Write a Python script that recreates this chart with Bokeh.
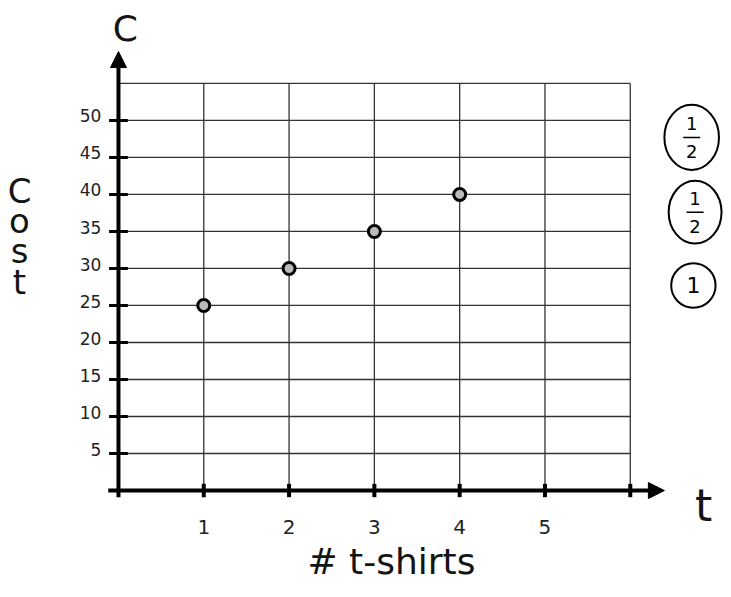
from bokeh.plotting import figure
from bokeh.models import Range1d, Arrow, NormalHead
from bokeh.core.properties import value
from bokeh.embed import file_html
from bokeh.resources import INLINE

# ---- data ----
tshirts = [1, 2, 3, 4]
cost = [25, 30, 35, 40]
x_ticks = [1, 2, 3, 4, 5]
x_tick_labels = ["1", "2", "3", "4", "5"]
y_ticks = [5, 10, 15, 20, 25, 30, 35, 40, 45, 50]
y_tick_labels = ["5", "10", "15", "20", "25", "30", "35", "40", "45", "50"]
x_grid = [1, 2, 3, 4, 5, 6]
y_grid = [5, 10, 15, 20, 25, 30, 35, 40, 45, 50, 55]
x_max_grid = 6
y_max_grid = 55
x_label = "# t-shirts"
y_label_letters = ["C", "o", "s", "t"]
y_var = "C"
x_var = "t"
marks_num = ["1", "1", ""]
marks_den = ["2", "2", ""]
marks_whole = ["", "", "1"]

FONT = "DejaVu Sans"
INK = "#141414"

p = figure(width=723, height=589, output_backend="svg", toolbar_location=None,
           x_range=Range1d(-1.383, 7.093), y_range=Range1d(-13.37, 66.2),
           min_border=0, outline_line_color=None)
p.axis.visible = False
p.grid.visible = False

# grid lines
p.segment(x0=x_grid, y0=[0] * len(x_grid), x1=x_grid, y1=[y_max_grid] * len(x_grid),
          line_color="#333333", line_width=1.3)
p.segment(x0=[0] * len(y_grid), y0=y_grid, x1=[x_max_grid] * len(y_grid), y1=y_grid,
          line_color="#333333", line_width=1.3)

# axes with arrows
p.add_layout(Arrow(end=NormalHead(size=16, fill_color="black", line_color="black"),
                   x_start=0, y_start=-0.9, x_end=0, y_end=59.3,
                   line_width=4, line_color="black"))
p.add_layout(Arrow(end=NormalHead(size=16, fill_color="black", line_color="black"),
                   x_start=-0.12, y_start=0, x_end=6.4, y_end=0,
                   line_width=4, line_color="black"))

# tick marks
p.segment(x0=[-0.11] * len(y_ticks), y0=y_ticks, x1=[0.11] * len(y_ticks), y1=y_ticks,
          line_color="black", line_width=3)
p.segment(x0=x_grid, y0=[-0.9] * len(x_grid), x1=x_grid, y1=[0.9] * len(x_grid),
          line_color="black", line_width=4)

# tick labels
p.text(x=[-0.2] * len(y_ticks), y=[v + 0.6 for v in y_ticks], text=y_tick_labels,
       text_font=value(FONT), text_font_size="17px", text_align="right",
       text_baseline="middle", text_color="#222222")
p.text(x=x_ticks, y=[-4.9] * len(x_ticks), text=x_tick_labels,
       text_font=value(FONT), text_font_size="20px", text_align="center",
       text_baseline="middle", text_color="#222222")

# data points
p.scatter(x=tshirts, y=cost, size=12, line_width=3, line_color="black",
          fill_color="#bbbbbb")

# axis names
p.text(x=[3.2], y=[-9.6], text=[x_label], text_font=value(FONT),
       text_font_size="36px", text_align="center", text_baseline="middle",
       text_color=INK)
p.text(x=[0.08], y=[62.4], text=[y_var], text_font=value(FONT),
       text_font_size="36px", text_align="center", text_baseline="middle",
       text_color=INK)
p.text(x=[6.86], y=[-2.0], text=[x_var], text_font=value(FONT),
       text_font_size="44px", text_align="center", text_baseline="middle",
       text_color=INK)
p.text(x=[-1.16] * 4, y=[40.5, 36.4, 32.4, 28.2], text=y_label_letters,
       text_font=value(FONT), text_font_size="34px", text_align="center",
       text_baseline="middle", text_color=INK)

# circled grading marks
mx = [6.72, 6.76, 6.74]
my = [47.7, 37.6, 27.7]
p.ellipse(x=mx, y=my, width=[0.64, 0.62, 0.52], height=[8.8, 8.5, 6.0],
          fill_color=None, line_color="black", line_width=2)
p.text(x=mx, y=[v + 1.9 for v in my], text=marks_num, text_font=value(FONT),
       text_font_size="18px", text_align="center", text_baseline="middle")
p.text(x=mx, y=[v - 1.9 for v in my], text=marks_den, text_font=value(FONT),
       text_font_size="18px", text_align="center", text_baseline="middle")
p.segment(x0=[v - 0.1 for v in mx[:2]], y0=my[:2], x1=[v + 0.1 for v in mx[:2]], y1=my[:2],
          line_color="black", line_width=1.5)
p.text(x=mx, y=my, text=marks_whole, text_font=value(FONT),
       text_font_size="22px", text_align="center", text_baseline="middle")

open("out.html", "w").write(file_html(p, INLINE))
